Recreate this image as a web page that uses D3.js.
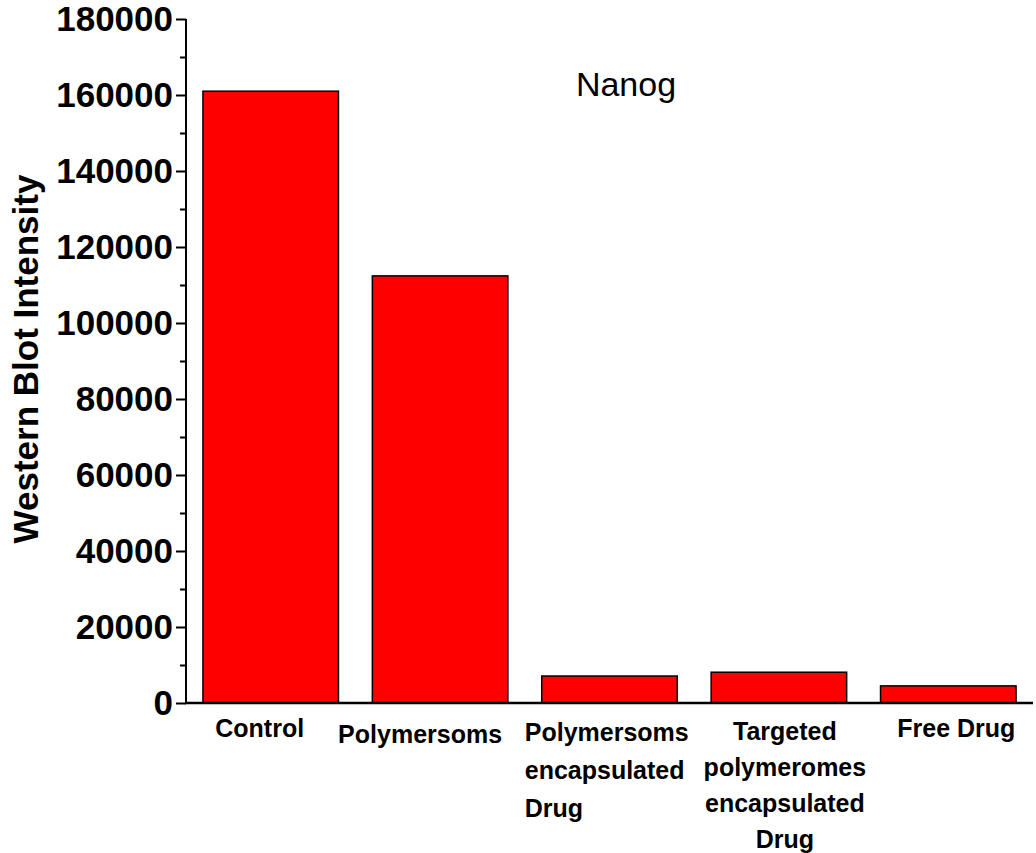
<!DOCTYPE html>
<html>
<head>
<meta charset="utf-8">
<script src="https://cdn.jsdelivr.net/npm/d3@7"></script>
<style>
  html, body { margin: 0; padding: 0; background: #fff; }
  svg { display: block; }
  text { font-family: "Liberation Sans", Arial, Helvetica, sans-serif; }
</style>
</head>
<body>
<svg id="chart" width="1036" height="853"></svg>
<script>
// ---- data ----
const categories = ["Control", "Polymersoms", "Polymersoms encapsulated Drug", "Targeted polymeromes encapsulated Drug", "Free Drug"];
const values = [161000, 112400, 7100, 8100, 4500];
const categoryLabelLines = [
  ["Control"],
  ["Polymersoms"],
  ["Polymersoms", "encapsulated", "Drug"],
  ["Targeted", "polymeromes", "encapsulated", "Drug"],
  ["Free Drug"]
];
const yTicks = [0, 20000, 40000, 60000, 80000, 100000, 120000, 140000, 160000, 180000];
const yMinorTicks = [10000, 30000, 50000, 70000, 90000, 110000, 130000, 150000, 170000];
const yTitle = "Western Blot Intensity";
const chartTitle = "Nanog";

// ---- layout ----
const svg = d3.select("#chart");
const mLeft = 186, mRight = 1033, mTop = 19, mBottom = 703;

const x = d3.scaleBand().domain(categories).range([mLeft, mRight]).paddingInner(0.2).paddingOuter(0.1);
const y = d3.scaleLinear().domain([0, 180000]).range([mBottom, mTop]);

// bars
svg.append("g").selectAll("rect").data(categories).join("rect")
  .attr("x", d => x(d))
  .attr("y", (d, i) => y(values[i]))
  .attr("width", x.bandwidth())
  .attr("height", (d, i) => y(0) - y(values[i]))
  .attr("fill", "#ff0000")
  .attr("stroke", "#000")
  .attr("stroke-width", 1.5);

// y axis major
const yAxis = svg.append("g").attr("transform", `translate(${mLeft},0)`)
  .call(d3.axisLeft(y).tickValues(yTicks).tickSize(10).tickPadding(3).tickFormat(d3.format("d")));
yAxis.select(".domain").attr("stroke", "#000").attr("stroke-width", 2).attr("d", `M0,${mBottom}V${mTop}`);
yAxis.selectAll(".tick line").attr("stroke", "#000").attr("stroke-width", 2);
yAxis.selectAll(".tick text")
  .attr("font-size", 35).attr("font-weight", "bold").attr("fill", "#000")
  .attr("font-family", "'Liberation Sans', Arial, sans-serif");

// y axis minor
const yMinor = svg.append("g").attr("transform", `translate(${mLeft},0)`)
  .call(d3.axisLeft(y).tickValues(yMinorTicks).tickSize(6).tickFormat(""));
yMinor.select(".domain").remove();
yMinor.selectAll(".tick line").attr("stroke", "#000").attr("stroke-width", 2);

// x axis line
svg.append("line")
  .attr("x1", mLeft - 1).attr("x2", mRight)
  .attr("y1", y(0)).attr("y2", y(0))
  .attr("stroke", "#000").attr("stroke-width", 2.5);

// category labels
const labelAlign = ["middle", "middle", "start", "middle", "middle"];
const labelDx = [-11, -20, -17, 6, 8];
const labelFirstBaseline = [737, 743, 741, 740, 737];
const labelLineHeight = [38, 38, 38, 36, 38];
const lg = svg.append("g");
categories.forEach((c, i) => {
  const cx = labelAlign[i] === "start" ? x(c) + labelDx[i] : x(c) + x.bandwidth() / 2 + labelDx[i];
  const t = lg.append("text")
    .attr("text-anchor", labelAlign[i])
    .attr("font-size", 25).attr("font-weight", "bold").attr("fill", "#000");
  categoryLabelLines[i].forEach((line, j) => {
    t.append("tspan").attr("x", cx).attr("y", labelFirstBaseline[i] + j * labelLineHeight[i]).text(line);
  });
});

// y title
svg.append("text")
  .attr("transform", `translate(38,359) rotate(-90)`)
  .attr("text-anchor", "middle")
  .attr("font-size", 35).attr("font-weight", "bold").attr("fill", "#000")
  .text(yTitle);

// chart title
svg.append("text")
  .attr("x", 626).attr("y", 96)
  .attr("text-anchor", "middle")
  .attr("font-size", 34).attr("fill", "#000")
  .text(chartTitle);
</script>
</body>
</html>
